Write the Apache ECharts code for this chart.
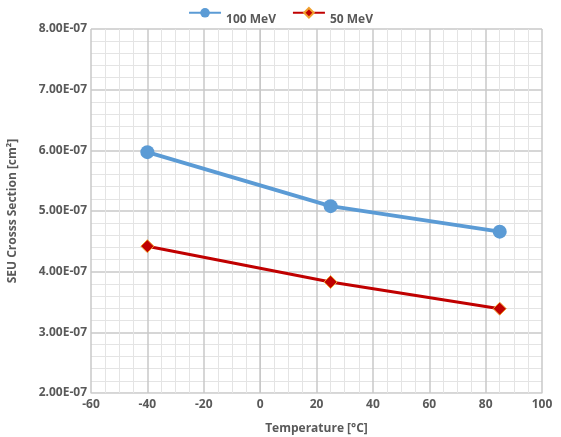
<!DOCTYPE html>
<html><head><meta charset="utf-8">
<script src="https://cdn.jsdelivr.net/npm/echarts@6/dist/echarts.min.js"></script>
<style>html,body{margin:0;padding:0;background:#fff}#c{width:561px;height:437px}</style>
</head><body><div id="c"></div>
<script>
const temperatures = [-40, 25, 85];
const seu100 = [5.97e-7, 5.08e-7, 4.66e-7];
const seu50 = [4.42e-7, 3.83e-7, 3.39e-7];
const seriesNames = ['100 MeV', '50 MeV'];

function fmtE(v){
  if (v === 0) return '0.00E+00';
  let e = Math.floor(Math.log10(Math.abs(v)) + 1e-9);
  let m = v / Math.pow(10, e);
  if (Math.abs(m) >= 9.995) { m /= 10; e += 1; }
  const sign = e < 0 ? '-' : '+';
  const ea = Math.abs(e);
  return m.toFixed(2) + 'E' + sign + (ea < 10 ? '0' + ea : ea);
}

const chart = echarts.init(document.getElementById('c'));
const labelStyle = {color:'#595959', fontFamily:'Open Sans', fontWeight:'bold', fontSize:12};
chart.setOption({
  animation:false,
  legend:{
    top:2, left:'center', itemWidth:32, itemHeight:12, itemGap:16,
    formatter:'{a|{name}}',
    textStyle:{color:'#595959', fontFamily:'Open Sans', fontWeight:'bold', fontSize:12,
      rich:{a:{color:'#595959', fontFamily:'Open Sans', fontWeight:'bold', fontSize:12, padding:[14,0,0,0]}}},
    data:seriesNames
  },
  grid:{left:91, right:19, top:29, bottom:44, outerBoundsMode:'none', containLabel:false},
  xAxis:{
    type:'value', min:-60, max:100, interval:20,
    name:'Temperature [°C]', nameLocation:'middle', nameGap:30,
    nameTextStyle:labelStyle,
    axisLine:{show:true, lineStyle:{color:'#d9d9d9'}},
    axisTick:{show:false},
    axisLabel:Object.assign({margin:6}, labelStyle),
    splitLine:{show:true, lineStyle:{color:'#c8c8c8', width:1.5}},
    minorTick:{show:false, splitNumber:4},
    minorSplitLine:{show:true, lineStyle:{color:'#e4e4e4', width:1}}
  },
  yAxis:{
    type:'value', min:2e-7, max:8e-7, interval:1e-7,
    name:'SEU Crosss Section [cm²]', nameLocation:'middle', nameGap:72,
    nameTextStyle:labelStyle,
    axisLine:{show:true, lineStyle:{color:'#c8c8c8'}},
    axisTick:{show:false},
    axisLabel:Object.assign({margin:4, formatter:fmtE}, labelStyle),
    splitLine:{show:true, lineStyle:{color:'#c8c8c8', width:1.5}},
    minorTick:{show:false, splitNumber:5},
    minorSplitLine:{show:true, lineStyle:{color:'#e4e4e4', width:1}}
  },
  series:[
    {name:seriesNames[0], type:'line', data:temperatures.map((t,i)=>[t, seu100[i]]),
     symbol:'circle', symbolSize:14, lineStyle:{color:'#5b9bd5', width:4},
     itemStyle:{color:'#5b9bd5'}},
    {name:seriesNames[1], type:'line', data:temperatures.map((t,i)=>[t, seu50[i]]),
     symbol:'diamond', symbolSize:13, lineStyle:{color:'#c00000', width:3},
     itemStyle:{color:'#c00000', borderColor:'#f0a030', borderWidth:1}}
  ]
});
</script></body></html>
